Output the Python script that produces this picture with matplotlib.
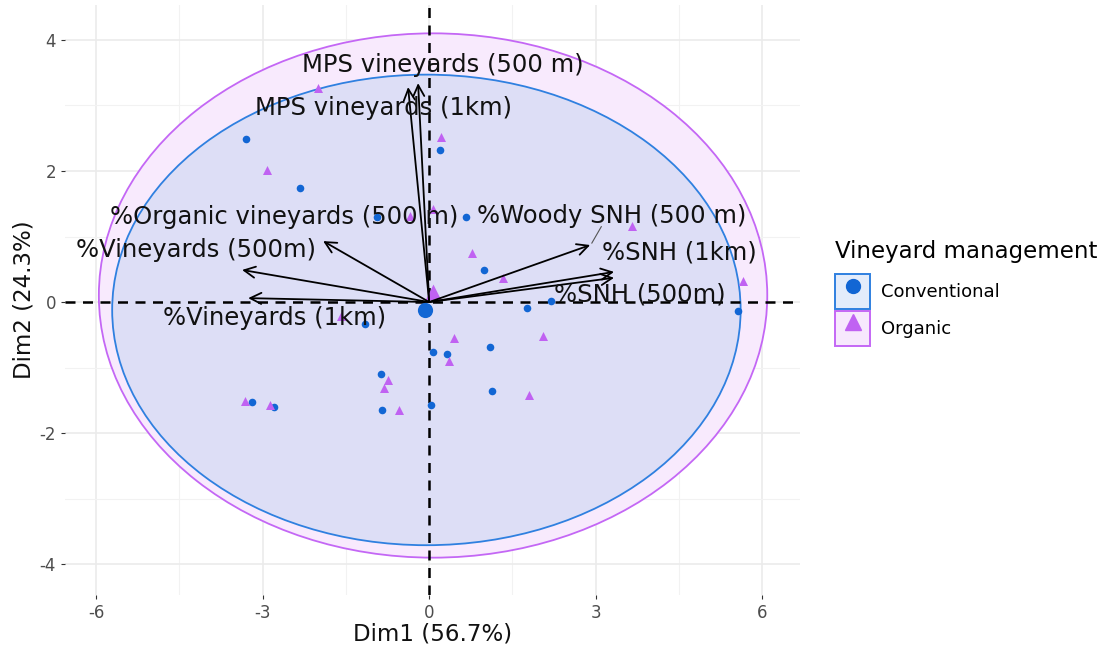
import matplotlib.pyplot as plt
from matplotlib.patches import Ellipse, Patch
from matplotlib.lines import Line2D

plt.rcParams['axes.unicode_minus'] = False

# individuals (PCA scores)
conv_x = [-3.30, -2.32, 0.20, 0.67, 0.99, 1.77, 2.20, 5.57, -1.15, 0.07, 0.32, 1.10,
          1.14, -0.86, -0.85, 0.04, -3.19, -2.79, -0.94]
conv_y = [2.49, 1.74, 2.32, 1.30, 0.49, -0.09, 0.02, -0.14, -0.34, -0.76, -0.79, -0.69,
          -1.36, -1.10, -1.65, -1.57, -1.53, -1.60, 1.30]
org_x = [-2.00, -2.92, 0.22, -0.34, 0.07, 0.77, 1.33, 3.66, 5.66, 0.45, 2.05, 0.36,
         1.80, -0.74, -0.81, -0.54, -3.32, -2.86, -1.59]
org_y = [3.27, 2.02, 2.52, 1.31, 1.42, 0.75, 0.37, 1.16, 0.32, -0.55, -0.52, -0.90,
         -1.42, -1.19, -1.31, -1.65, -1.51, -1.57, -0.21]

# group means
conv_mean = (-0.07, -0.12)
org_mean = (0.07, 0.15)

# confidence ellipses: centre x, centre y, half-width, half-height
conv_ell = (-0.05, -0.12, 5.66, 3.59)
org_ell = (0.07, 0.10, 6.02, 4.00)

# variables (arrow tips) and label positions
var_names = ['MPS vineyards (500 m)', 'MPS vineyards (1km)', '%Organic vineyards (500 m)',
             '%Vineyards (500m)', '%Vineyards (1km)', '%Woody SNH (500 m)',
             '%SNH (1km)', '%SNH (500m)']
var_x = [-0.20, -0.38, -1.91, -3.37, -3.26, 2.90, 3.33, 3.33]
var_y = [3.34, 3.28, 0.93, 0.49, 0.06, 0.87, 0.46, 0.37]
lab_x = [0.25, -0.83, -2.61, -4.20, -2.79, 3.28, 4.50, 3.80]
lab_y = [3.62, 2.96, 1.30, 0.79, -0.24, 1.31, 0.76, 0.11]

blue = '#1266d4'
blue_line = '#2f80e0'
purple = '#c062f2'
purple_line = '#c467f5'

fig = plt.figure(figsize=(11.07, 6.45), dpi=100)
ax = fig.add_axes([0.0587, 0.0775, 0.664, 0.9145])

ax.add_patch(Ellipse((org_ell[0], org_ell[1]), 2 * org_ell[2], 2 * org_ell[3],
                     facecolor='#f8eafd', edgecolor=purple_line, lw=1.3, zorder=1))
ax.add_patch(Ellipse((conv_ell[0], conv_ell[1]), 2 * conv_ell[2], 2 * conv_ell[3],
                     facecolor='#dddef6', edgecolor=blue_line, lw=1.3, zorder=2))

ax.axhline(0, color='black', ls='--', lw=1.8, dashes=(4, 3), zorder=3)
ax.axvline(0, color='black', ls='--', lw=1.8, dashes=(4, 3), zorder=3)

ax.scatter(conv_x, conv_y, marker='o', s=30, color=blue, zorder=4, linewidths=0)
ax.scatter(org_x, org_y, marker='^', s=42, color=purple, zorder=4, linewidths=0)
ax.scatter([conv_mean[0]], [conv_mean[1]], marker='o', s=120, color=blue, zorder=4, linewidths=0)
ax.scatter([org_mean[0]], [org_mean[1]], marker='^', s=130, color=purple, zorder=4, linewidths=0)

for name, vx, vy, tx, ty in zip(var_names, var_x, var_y, lab_x, lab_y):
    ax.annotate('', xy=(vx, vy), xytext=(0, 0),
                arrowprops=dict(arrowstyle='->', color='black', lw=1.3,
                                mutation_scale=20, shrinkA=0, shrinkB=0), zorder=5)
    ax.text(tx, ty, name, fontsize=17.5, ha='center', va='center', color='#111111', zorder=6)

# repel segment for the woody label
ax.plot([3.1, 2.93], [1.15, 0.9], color='#555555', lw=0.8, zorder=5)

ax.set_xlim(-6.56, 6.68)
ax.set_ylim(-4.47, 4.53)
ax.set_xticks([-6, -3, 0, 3, 6])
ax.set_yticks([-4, -2, 0, 2, 4])
ax.set_xticks([-4.5, -1.5, 1.5, 4.5], minor=True)
ax.set_yticks([-3, -1, 1, 3], minor=True)
ax.grid(which='major', color='#ebebeb', lw=1.2)
ax.grid(which='minor', color='#f2f2f2', lw=0.8)
ax.set_axisbelow(True)
for s in ax.spines.values():
    s.set_visible(False)
ax.tick_params(which='major', length=3, color='#333333', labelsize=12, labelcolor='#4d4d4d')
ax.tick_params(which='minor', length=0)
ax.set_xlabel('Dim1 (56.7%)', fontsize=16.5, color='#111111', labelpad=0)
ax.set_ylabel('Dim2 (24.3%)', fontsize=16.5, color='#111111', labelpad=3)

handles = [
    (Patch(facecolor='#e3ecfb', edgecolor=blue_line, lw=1.4),
     Line2D([], [], marker='o', color=blue, ls='', markersize=10)),
    (Patch(facecolor='#f7e8fd', edgecolor=purple_line, lw=1.4),
     Line2D([], [], marker='^', color=purple, ls='', markersize=11)),
]
leg = fig.legend(handles, ['Conventional', 'Organic'], title='Vineyard management',
                 loc='upper left', bbox_to_anchor=(0.7398, 0.653), frameon=False,
                 fontsize=13, title_fontsize=16.5, handlelength=1.95, handleheight=2.6,
                 handletextpad=0.6, labelspacing=0.1)
leg._legend_box.align = 'left'
leg._legend_box.sep = 8

fig.savefig('out.png', dpi=100)
